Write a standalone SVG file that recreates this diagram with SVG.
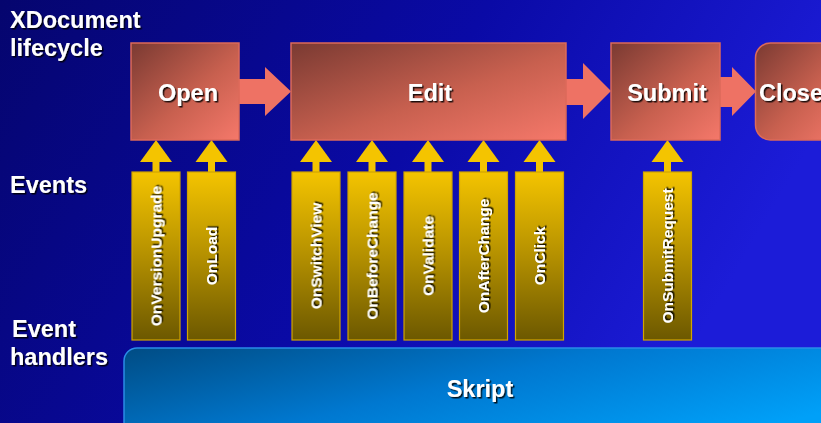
<svg xmlns="http://www.w3.org/2000/svg" width="821" height="423" viewBox="0 0 821 423">
<defs>
<linearGradient id="bg" x1="0" y1="0" x2="1" y2="0.3">
<stop offset="0" stop-color="#05056e"/>
<stop offset="0.55" stop-color="#0a0aa6"/>
<stop offset="1" stop-color="#1c1cd8"/>
</linearGradient>
<linearGradient id="stage" x1="0" y1="0" x2="1" y2="1">
<stop offset="0" stop-color="#7a3a32"/>
<stop offset="0.55" stop-color="#c8604f"/>
<stop offset="1" stop-color="#f5786a"/>
</linearGradient>
<linearGradient id="ev" x1="0" y1="0" x2="0" y2="1">
<stop offset="0" stop-color="#f4c400"/>
<stop offset="0.5" stop-color="#b49000"/>
<stop offset="1" stop-color="#6c5800"/>
</linearGradient>
<linearGradient id="sk" x1="0" y1="0" x2="1" y2="0.6">
<stop offset="0" stop-color="#004c84"/>
<stop offset="0.5" stop-color="#0078d0"/>
<stop offset="1" stop-color="#00a0f8"/>
</linearGradient>
<filter id="sh" x="-20%" y="-20%" width="140%" height="140%">
<feDropShadow dx="1.5" dy="1.5" stdDeviation="0.4" flood-color="#000000" flood-opacity="0.85"/>
</filter>
</defs>
<style>
.lbl{font-family:"Liberation Sans",Arial,sans-serif;font-weight:bold;fill:#ffffff;font-size:23.5px}
.side{font-family:"Liberation Sans",Arial,sans-serif;font-weight:bold;fill:#ffffff;font-size:23.5px}
.evt{font-family:"Liberation Sans",Arial,sans-serif;font-weight:bold;fill:#ffffff;font-size:15.5px}
.box{fill:url(#stage);stroke:#dc6a5a;stroke-width:1.5}
.bar{fill:url(#ev);stroke:#d0a400;stroke-width:1.2}
.flow{fill:#ee7264}
.shaft{fill:#f4c400}
</style>
<rect x="0" y="0" width="821" height="423" fill="url(#bg)"/>

<g id="side-labels" filter="url(#sh)">
<text class="side" x="10" y="28">XDocument</text>
<text class="side" x="10" y="56">lifecycle</text>
<text class="side" x="10" y="193">Events</text>
<text class="side" x="12" y="337">Event</text>
<text class="side" x="10" y="365">handlers</text>
</g>

<g id="connectors">
<polygon class="flow" points="237,79 265,79 265,67 291,91.5 265,116 265,104 237,104"/>
<polygon class="flow" points="564,79 583,79 583,63 611,91 583,119 583,105 564,105"/>
<polygon class="flow" points="718,77 732,77 732,67 756,91.5 732,116 732,107 718,107"/>
<g class="shaft">
<rect x="152.5" y="161" width="7" height="12"/>
<polygon points="140,162 156,140 172,162"/>
<rect x="208" y="161" width="7" height="12"/>
<polygon points="195.5,162 211.5,140 227.5,162"/>
<rect x="312.5" y="161" width="7" height="12"/>
<polygon points="300,162 316,140 332,162"/>
<rect x="368.5" y="161" width="7" height="12"/>
<polygon points="356,162 372,140 388,162"/>
<rect x="424.5" y="161" width="7" height="12"/>
<polygon points="412,162 428,140 444,162"/>
<rect x="480" y="161" width="7" height="12"/>
<polygon points="467.5,162 483.5,140 499.5,162"/>
<rect x="536" y="161" width="7" height="12"/>
<polygon points="523.5,162 539.5,140 555.5,162"/>
<rect x="664" y="161" width="7" height="12"/>
<polygon points="651.5,162 667.5,140 683.5,162"/>
</g>
</g>

<g id="open">
<rect class="box" x="131" y="43" width="108" height="97"/>
<text class="lbl" x="188" y="101" text-anchor="middle" filter="url(#sh)">Open</text>
</g>
<g id="edit">
<rect class="box" x="291" y="43" width="275" height="97"/>
<text class="lbl" x="430" y="101" text-anchor="middle" filter="url(#sh)">Edit</text>
</g>
<g id="submit">
<rect class="box" x="611" y="43" width="109" height="97"/>
<text class="lbl" x="667" y="101" text-anchor="middle" filter="url(#sh)">Submit</text>
</g>
<g id="close">
<rect class="box" x="755.5" y="43" width="90" height="97" rx="15" ry="15"/>
<text class="lbl" x="759" y="101" filter="url(#sh)">Close</text>
</g>

<g id="ev-onversionupgrade">
<rect class="bar" x="132" y="172" width="48" height="168"/>
<text class="evt" transform="translate(161.5,256) rotate(-90)" text-anchor="middle" filter="url(#sh)">OnVersionUpgrade</text>
</g>
<g id="ev-onload">
<rect class="bar" x="187.5" y="172" width="48" height="168"/>
<text class="evt" transform="translate(217,256) rotate(-90)" text-anchor="middle" filter="url(#sh)">OnLoad</text>
</g>
<g id="ev-onswitchview">
<rect class="bar" x="292" y="172" width="48" height="168"/>
<text class="evt" transform="translate(321.5,256) rotate(-90)" text-anchor="middle" filter="url(#sh)">OnSwitchView</text>
</g>
<g id="ev-onbeforechange">
<rect class="bar" x="348" y="172" width="48" height="168"/>
<text class="evt" transform="translate(377.5,256) rotate(-90)" text-anchor="middle" filter="url(#sh)">OnBeforeChange</text>
</g>
<g id="ev-onvalidate">
<rect class="bar" x="404" y="172" width="48" height="168"/>
<text class="evt" transform="translate(433.5,256) rotate(-90)" text-anchor="middle" filter="url(#sh)">OnValidate</text>
</g>
<g id="ev-onafterchange">
<rect class="bar" x="459.5" y="172" width="48" height="168"/>
<text class="evt" transform="translate(489,256) rotate(-90)" text-anchor="middle" filter="url(#sh)">OnAfterChange</text>
</g>
<g id="ev-onclick">
<rect class="bar" x="515.5" y="172" width="48" height="168"/>
<text class="evt" transform="translate(545,256) rotate(-90)" text-anchor="middle" filter="url(#sh)">OnClick</text>
</g>
<g id="ev-onsubmitrequest">
<rect class="bar" x="643.5" y="172" width="48" height="168"/>
<text class="evt" transform="translate(673,256) rotate(-90)" text-anchor="middle" filter="url(#sh)">OnSubmitRequest</text>
</g>

<g id="skript">
<rect x="124" y="348" width="720" height="100" rx="13" ry="13" fill="url(#sk)" stroke="#2a8ce8" stroke-width="1.5"/>
<text class="lbl" x="480" y="397" text-anchor="middle" filter="url(#sh)">Skript</text>
</g>
</svg>
